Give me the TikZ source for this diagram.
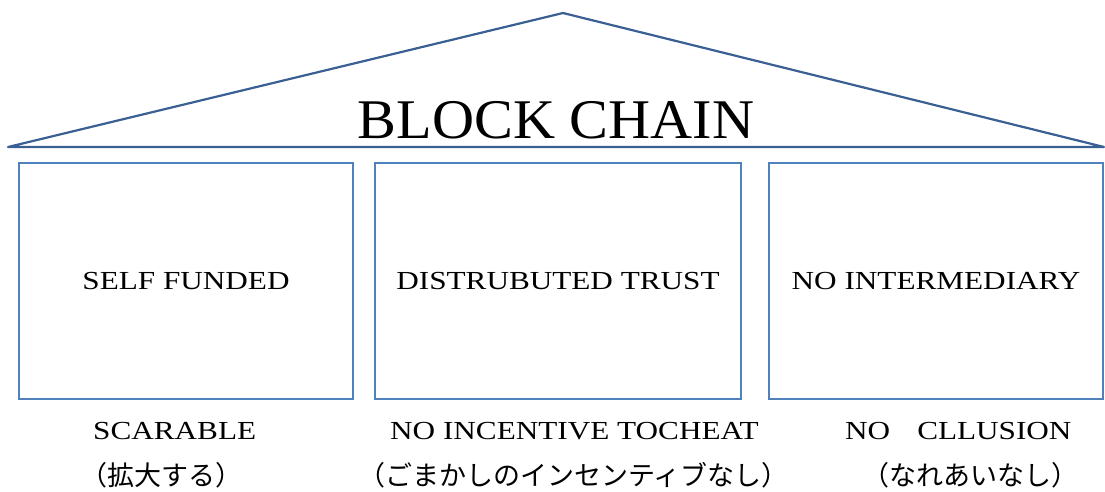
\documentclass[tikz,border=0pt]{standalone}
\usepackage{fontspec}
\setmainfont{Liberation Serif}
\newfontfamily\widefont[FakeStretch=1.2]{Liberation Serif}
\newfontfamily\titlefont[FakeStretch=1.04]{Liberation Serif}
\newfontfamily\jpfont{Noto Sans CJK JP}
\definecolor{roofblue}{HTML}{3A5F92}
\definecolor{boxblue}{HTML}{4F81BD}
\tikzset{
  roofline/.style={draw=roofblue, line width=2.2pt, line join=round},
  pillar/.style={draw=boxblue, line width=2pt},
  pilltext/.style={font=\widefont\fontsize{26}{30}\selectfont, inner sep=0pt},
  captext/.style={font=\widefont\fontsize{26}{30}\selectfont, inner sep=0pt, anchor=west},
  jptext/.style={font=\fontsize{27}{30}\selectfont\jpfont, inner sep=0pt, anchor=west},
}
\begin{document}
\begin{tikzpicture}[x=1pt,y=-1pt]
\useasboundingbox (0,0) rectangle (1105,491);
% roof
\coordinate (rl) at (8,147);
\coordinate (ra) at (563,13);
\coordinate (rr) at (1104,147);
\draw[roofline] (rl) -- (ra) -- (rr) -- cycle;
\node[font=\titlefont\fontsize{56}{60}\selectfont, inner sep=0pt] (title) at (556,120) {BLOCK CHAIN};
% pillars
\node[pillar, minimum width=334pt, minimum height=236pt, inner sep=0pt] (p1) at (186,281) {};
\node[pillar, minimum width=366pt, minimum height=236pt, inner sep=0pt] (p2) at (558,281) {};
\node[pillar, minimum width=334pt, minimum height=236pt, inner sep=0pt] (p3) at (936,281) {};
\node[pilltext] (t1) at (p1.center) {SELF FUNDED};
\node[pilltext] (t2) at (p2.center) {DISTRUBUTED TRUST};
\node[pilltext] (t3) at (p3.center) {NO INTERMEDIARY};
% captions
\node[captext] (c1) at (93,431) {SCARABLE};
\node[jptext] (j1) at (80,475) {（拡大する）};
\node[captext] (c2) at (390,431) {NO INCENTIVE TOCHEAT};
\node[jptext] (j2) at (358,475) {（ごまかしのインセンティブなし）};
\node[captext] (c3) at (845,431) {NO\hspace{27pt}CLLUSION};
\node[jptext] (j3) at (862,475) {（なれあいなし）};
\end{tikzpicture}
\end{document}
